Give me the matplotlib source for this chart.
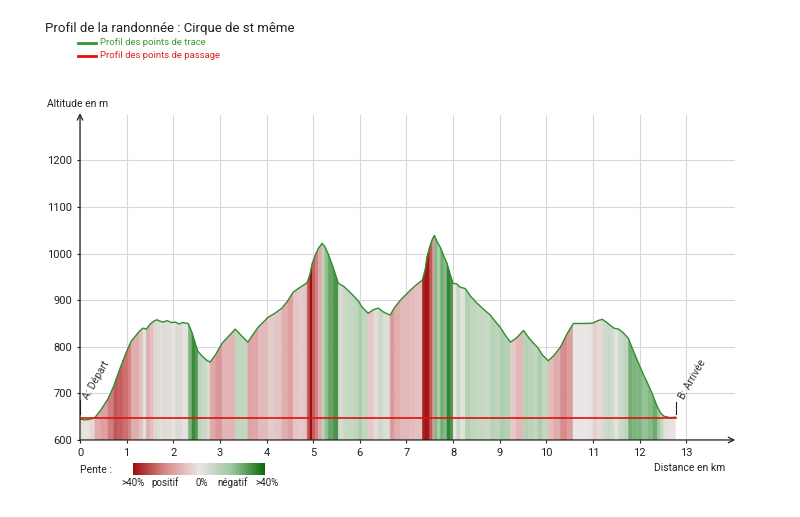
import numpy as np
import matplotlib.pyplot as plt
from matplotlib.colors import LinearSegmentedColormap, Normalize
from matplotlib.collections import PolyCollection
from matplotlib.lines import Line2D

plt.rcParams['font.family'] = ['Roboto', 'DejaVu Sans']

# profile (km, m)
dist = [0.00, 0.10, 0.20, 0.32, 0.45, 0.60, 0.72, 0.82, 0.92, 1.03,
        1.10, 1.18, 1.27, 1.35, 1.42, 1.50, 1.58, 1.65, 1.72, 1.78,
        1.87, 1.97, 2.05, 2.12, 2.20, 2.32, 2.40, 2.47, 2.53, 2.62,
        2.72, 2.79, 2.90, 3.05, 3.18, 3.33, 3.45, 3.60, 3.70, 3.82,
        3.92, 4.03, 4.18, 4.33, 4.45, 4.57, 4.68, 4.79, 4.87, 4.93,
        4.98, 5.05, 5.11, 5.19, 5.25, 5.32, 5.43, 5.54, 5.65, 5.75,
        5.86, 5.97, 6.05, 6.18, 6.30, 6.40, 6.50, 6.65, 6.75, 6.87,
        6.97, 7.08, 7.20, 7.34, 7.40, 7.44, 7.50, 7.56, 7.60, 7.66,
        7.73, 7.80, 7.87, 7.94, 8.00, 8.08, 8.15, 8.26, 8.38, 8.52,
        8.66, 8.80, 8.90, 9.01, 9.12, 9.23, 9.35, 9.51, 9.62, 9.72,
        9.81, 9.92, 10.04, 10.15, 10.30, 10.45, 10.58, 10.72, 10.88, 11.00,
        11.10, 11.20, 11.30, 11.37, 11.45, 11.55, 11.65, 11.76, 11.85, 11.95,
        12.06, 12.17, 12.28, 12.38, 12.45, 12.52, 12.65, 12.77]
elev = [645, 643, 644, 648, 665, 688, 715, 743, 770, 797,
        812, 822, 833, 840, 838, 848, 855, 858, 855, 853,
        856, 852, 853, 849, 852, 850, 831, 808, 790, 780,
        771, 767, 782, 808, 822, 838, 825, 810, 825, 842,
        852, 863, 872, 883, 898, 917, 925, 932, 938, 955,
        979, 998, 1011, 1022, 1015, 1000, 970, 936, 930, 921,
        910, 898, 885, 872, 880, 883, 875, 868, 885, 900,
        910, 921, 932, 943, 965, 992, 1015, 1032, 1039, 1025,
        1013, 995, 979, 955, 936, 935, 928, 925, 908, 893,
        880, 868, 855, 842, 825, 810, 818, 835, 820, 808,
        799, 782, 770, 780, 799, 829, 850, 850, 850, 851,
        856, 859, 852, 846, 840, 838, 830, 818, 795, 771,
        745, 722, 697, 671, 658, 651, 648, 649]

passage_dist = [0.0, 12.77]
passage_elev = [647, 647]

xticks = list(range(0, 14))
yticks = [600, 700, 800, 900, 1000, 1100, 1200]

pente_labels = ['>40%', 'positif', '0%', 'négatif', '>40%']

cmap = LinearSegmentedColormap.from_list(
    'pente', ['#a00d0d', '#d98c8c', '#ebe6e6', '#9cc79c', '#0a6a0a'])
norm = Normalize(-40, 40)

fig = plt.figure(figsize=(8, 5.17), dpi=100)
ax = fig.add_axes([0.1, 0.149, 0.819, 0.629])

d = np.array(dist)
e = np.array(elev)
slope = np.diff(e) / (np.diff(d) * 1000) * 100
polys = [[(d[i], 600), (d[i], e[i]), (d[i + 1], e[i + 1]), (d[i + 1], 600)]
         for i in range(len(d) - 1)]
cols = cmap(norm(-slope))
pc = PolyCollection(polys, facecolors=cols, edgecolors=cols, linewidths=0.3, zorder=2)
ax.add_collection(pc)

ax.plot(dist, elev, color='#2f8f2f', lw=1.0, zorder=3)
ax.plot(passage_dist, passage_elev, color='#e01010', lw=1.2, zorder=4)

ax.set_xlim(0, 14.05)
ax.set_ylim(600, 1298)
ax.set_xticks(xticks)
ax.set_yticks(yticks)
ax.tick_params(labelsize=8, colors='#222222', length=2, width=0.8)
ax.grid(True, color='#d8d8d8', lw=0.8, zorder=0)
ax.set_axisbelow(True)
for s in ax.spines.values():
    s.set_visible(False)

ax.annotate('', xy=(0, 1.005), xytext=(0, 0), xycoords='axes fraction',
            arrowprops=dict(arrowstyle='->', color='#222222', lw=0.9, shrinkA=0, shrinkB=0))
ax.annotate('', xy=(1.0, 0), xytext=(0, 0), xycoords='axes fraction',
            arrowprops=dict(arrowstyle='->', color='#222222', lw=0.9, shrinkA=0, shrinkB=0))

# start / end markers
ax.plot([0, 0], [655, 685], color='#222222', lw=0.8, zorder=5)
ax.plot([dist[-1], dist[-1]], [655, 682], color='#222222', lw=0.8, zorder=5)
ax.text(0.12, 690, 'A: Départ', rotation=60, rotation_mode='anchor',
        ha='left', va='center', fontsize=7.5, color='#333333', zorder=6)
ax.text(dist[-1] + 0.12, 690, 'B: Arrivée', rotation=60, rotation_mode='anchor',
        ha='left', va='center', fontsize=7.5, color='#333333', zorder=6)

fig.text(0.056, 0.944, 'Profil de la randonnée : Cirque de st même',
         fontsize=9.5, color='#222222', va='center')
fig.add_artist(Line2D([0.0975, 0.12], [0.917, 0.917], color='#2f9a2f', lw=2))
fig.add_artist(Line2D([0.0975, 0.12], [0.892, 0.892], color='#e01010', lw=2))
fig.text(0.125, 0.917, 'Profil des points de trace', fontsize=6.8,
         color='#3a9a3a', va='center')
fig.text(0.125, 0.892, 'Profil des points de passage', fontsize=6.8,
         color='#e02020', va='center')

fig.text(0.059, 0.799, 'Altitude en m', fontsize=7.5, color='#222222', va='center')
fig.text(0.906, 0.095, 'Distance en km', fontsize=7.5, color='#222222',
         va='center', ha='right')

# slope legend
fig.text(0.1, 0.091, 'Pente :', fontsize=7.5, color='#222222', va='center')
cax = fig.add_axes([0.166, 0.081, 0.165, 0.024])
cax.imshow(np.linspace(0, 1, 256)[None, :], cmap=cmap, aspect='auto')
cax.set_axis_off()
for xf, lab in zip([0.166, 0.206, 0.252, 0.291, 0.334], pente_labels):
    fig.text(xf, 0.066, lab, fontsize=7, color='#222222', ha='center', va='center')

fig.savefig('out.png', dpi=100)
